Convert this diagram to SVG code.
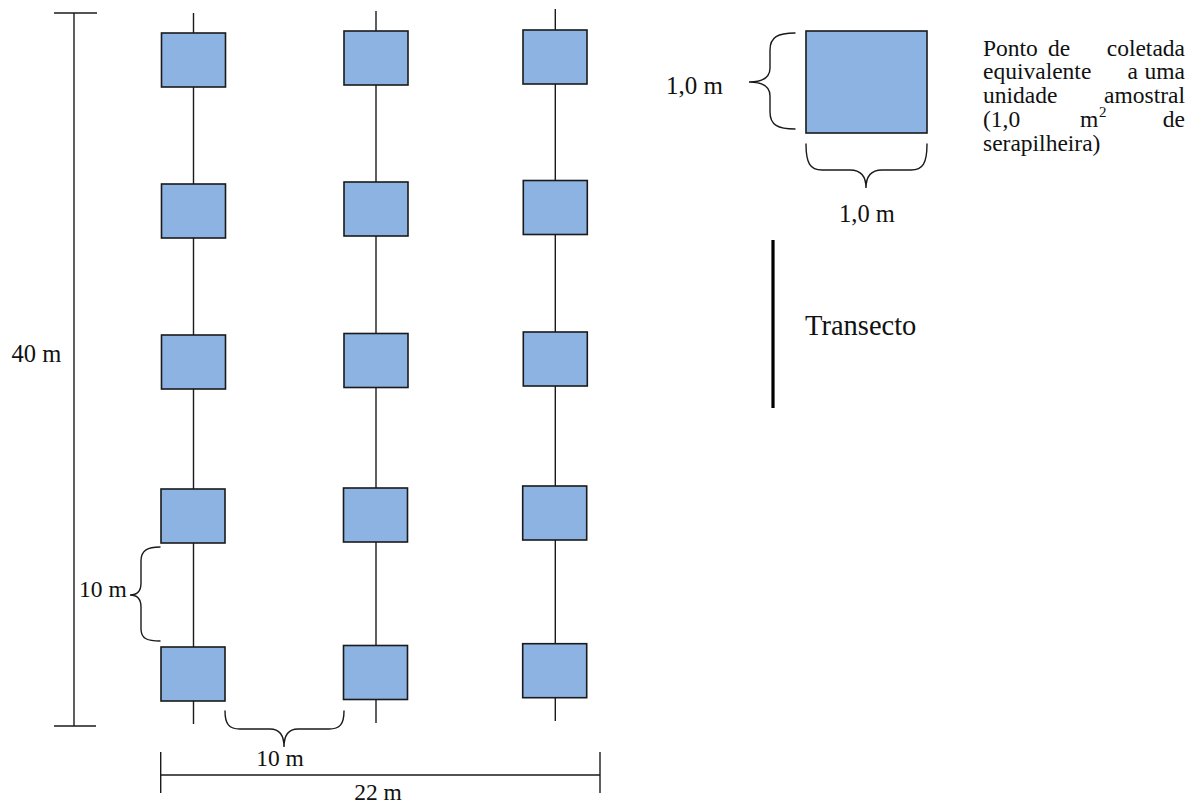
<svg xmlns="http://www.w3.org/2000/svg" width="1188" height="805" viewBox="0 0 1188 805">
  <defs>
    <style>
      .plot { fill: #8DB3E2; stroke: #1a1a1a; stroke-width: 1.6; }
      .line { stroke: #1a1a1a; stroke-width: 1.4; fill: none; }
      .brace { stroke: #1a1a1a; stroke-width: 1.4; fill: none; stroke-linecap: round; }
      .lbl { font-family: "Liberation Serif", "Times New Roman", serif; font-size: 23.5px; fill: #111; }
      .sup { font-family: "Liberation Serif", "Times New Roman", serif; font-size: 15px; fill: #111; }
      .big { font-family: "Liberation Serif", "Times New Roman", serif; font-size: 28.5px; fill: #111; }
    </style>
  </defs>
  <rect x="0" y="0" width="1188" height="805" fill="#ffffff"/>

  <!-- transect lines -->
  <g id="connectors">
    <line class="line" x1="193.5" y1="13" x2="193.5" y2="724"/>
    <line class="line" x1="376" y1="11" x2="376" y2="723"/>
    <line class="line" x1="555.3" y1="9" x2="555.3" y2="721"/>
  </g>

  <!-- sampling plots, transect 1 -->
  <g id="t1">
    <rect id="t1-p1" class="plot" x="161.5" y="33" width="64" height="54"/>
    <rect id="t1-p2" class="plot" x="161.5" y="184" width="64" height="54"/>
    <rect id="t1-p3" class="plot" x="161.5" y="335" width="64" height="54"/>
    <rect id="t1-p4" class="plot" x="161" y="489" width="64" height="54"/>
    <rect id="t1-p5" class="plot" x="161" y="647" width="64" height="54"/>
  </g>
  <!-- sampling plots, transect 2 -->
  <g id="t2">
    <rect id="t2-p1" class="plot" x="344" y="31" width="64" height="54"/>
    <rect id="t2-p2" class="plot" x="344" y="182" width="64" height="54"/>
    <rect id="t2-p3" class="plot" x="344" y="333.5" width="64" height="54"/>
    <rect id="t2-p4" class="plot" x="343.5" y="488" width="64" height="54"/>
    <rect id="t2-p5" class="plot" x="343.5" y="645.5" width="64" height="54"/>
  </g>
  <!-- sampling plots, transect 3 -->
  <g id="t3">
    <rect id="t3-p1" class="plot" x="523" y="30" width="64" height="54"/>
    <rect id="t3-p2" class="plot" x="523.3" y="180.5" width="64" height="54"/>
    <rect id="t3-p3" class="plot" x="523.3" y="332" width="64" height="54"/>
    <rect id="t3-p4" class="plot" x="522.7" y="486" width="64" height="54"/>
    <rect id="t3-p5" class="plot" x="522.7" y="643.7" width="64" height="54"/>
  </g>

  <!-- overall length: 40 m -->
  <g id="dim-40m">
    <line class="line" x1="74" y1="13" x2="74" y2="726"/>
    <line class="line" x1="54" y1="13" x2="97" y2="13"/>
    <line class="line" x1="54" y1="726" x2="96" y2="726"/>
    <text class="lbl" x="11.5" y="362" style="font-size:24.5px">40 m</text>
  </g>

  <!-- spacing between plots: 10 m -->
  <g id="dim-10m-v">
    <path class="brace" d="M160,547 C148,547 141,550 141,561 L141,583 C141,592 137,595 130,595 C137,595 141,598 141,607 L141,629 C141,639 148,641 160,641"/>
    <text class="lbl" x="79" y="597">10 m</text>
  </g>

  <!-- spacing between transects: 10 m -->
  <g id="dim-10m-h">
    <path class="brace" d="M225,711 C225,724 229,729 240,729 L270,729 C279,729 284,735 284,747 C284,735 289,729 298,729 L329,729 C340,729 344,724 344,711"/>
    <text class="lbl" x="280" y="766" text-anchor="middle">10 m</text>
  </g>

  <!-- overall width: 22 m -->
  <g id="dim-22m">
    <line class="line" x1="160.7" y1="775" x2="600" y2="775"/>
    <line class="line" x1="160.7" y1="752" x2="160.7" y2="793"/>
    <line class="line" x1="600" y1="752" x2="600" y2="793"/>
    <text class="lbl" x="378" y="800" text-anchor="middle">22 m</text>
  </g>

  <!-- legend: sampling unit -->
  <g id="legend-plot">
    <rect class="plot" x="806" y="31" width="121" height="102"/>
    <path class="brace" d="M795,33 C778,33 770,37 770,50 L770,68 C770,78 762,82 749,82 C762,82 770,86 770,96 L770,112 C770,125 778,129 795,129"/>
    <text class="lbl" x="666" y="94" style="font-size:25px">1,0 m</text>
    <path class="brace" d="M806,144 C806,163 810,170 822,170 L850,170 C860,170 866,176 866,188 C866,176 872,170 882,170 L911,170 C923,170 927,163 927,144"/>
    <text class="lbl" x="867" y="222" text-anchor="middle" style="font-size:24.5px">1,0 m</text>
  </g>

  <!-- legend description, justified -->
  <g id="legend-text">
    <text class="lbl" x="983" y="55.5">Ponto</text>
    <text class="lbl" x="1048" y="55.5">de</text>
    <text class="lbl" x="1185" y="55.5" text-anchor="end">coletada</text>
    <text class="lbl" x="983" y="79.3">equivalente</text>
    <text class="lbl" x="1127.5" y="79.3">a</text>
    <text class="lbl" x="1185" y="79.3" text-anchor="end">uma</text>
    <text class="lbl" x="983" y="103">unidade</text>
    <text class="lbl" x="1185" y="103" text-anchor="end">amostral</text>
    <text class="lbl" x="983" y="126.8">(1,0</text>
    <text class="lbl" x="1080" y="126.8">m</text>
    <text class="sup" x="1099" y="117">2</text>
    <text class="lbl" x="1185" y="126.8" text-anchor="end">de</text>
    <text class="lbl" x="983" y="150.6">serapilheira)</text>
  </g>

  <!-- legend: transect -->
  <g id="legend-transect">
    <line x1="773" y1="240" x2="773" y2="408" stroke="#000" stroke-width="3.2"/>
    <text class="big" x="805" y="335">Transecto</text>
  </g>
</svg>
